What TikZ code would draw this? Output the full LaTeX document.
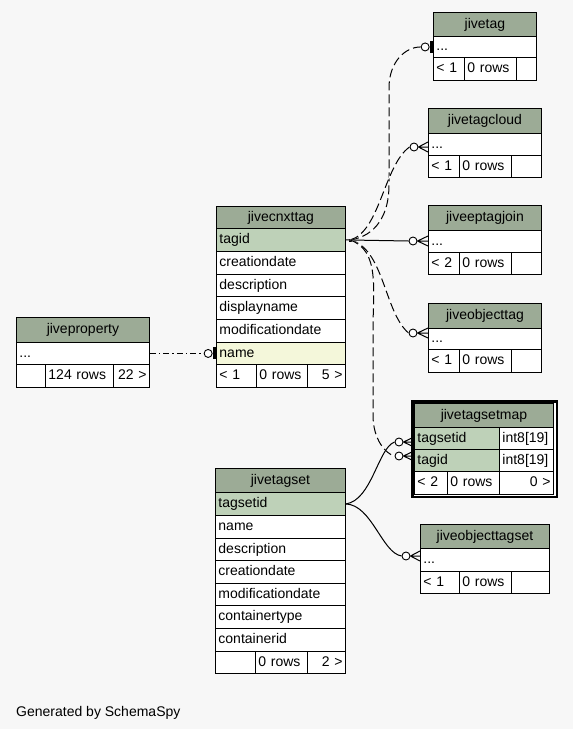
\documentclass[tikz,border=0pt]{standalone}
\usepackage{fontspec}
\setmainfont{Liberation Sans}
\usetikzlibrary{calc}
\definecolor{hdr}{HTML}{9CAB96}
\definecolor{pk}{HTML}{BED1B8}
\definecolor{idx}{HTML}{F4F7DA}
\definecolor{bgc}{HTML}{F7F7F7}
\pgfdeclarelayer{bgl}
\pgfdeclarelayer{edges}
\pgfsetlayers{bgl,edges,main}
\newcommand\tcell[8]{%
  \pgfmathsetmacro\tcw{#4-6}%
  \node[cell,fill=#6,align=#7,text width=\tcw pt,minimum height=#5pt] (#1) at (#2,#3) {#8};}
\tikzset{
  cell/.style={draw=black, line width=0.9pt, anchor=north west, inner xsep=3pt, inner ysep=0pt,
    text height=11pt, text depth=3pt, font=\fontsize{14}{16}\selectfont},
  circ/.style={circle, draw=black, fill=white, line width=0.9pt, inner sep=0pt, minimum size=8pt},
  barmark/.style={rectangle, fill=black, inner sep=0pt, minimum width=3pt, minimum height=12pt},
  conn/.style={draw=black, line width=1pt},
  dashconn/.style={draw=black, line width=1pt, dash pattern=on 9pt off 4pt,
    preaction={draw=white, solid, line width=1pt}},
  dotconn/.style={draw=black, line width=1pt, dash pattern=on 6pt off 3pt on 1.5pt off 3pt},
}
\begin{document}
\begin{tikzpicture}[x=1pt,y=-1pt]
\begin{pgfonlayer}{bgl}
\fill[bgc] (0,0) rectangle (573,729);
\end{pgfonlayer}
\useasboundingbox (0,0) rectangle (573,729);

% jivetag
\tcell{tg-h}{433}{12}{103}{24}{hdr}{center}{jivetag}
\tcell{tg-r}{433}{36}{103}{21}{white}{left}{...}
\tcell{tg-f1}{433}{57}{31}{23}{white}{left}{< 1}
\tcell{tg-f2}{464}{57}{52}{23}{white}{left}{0 rows}
\tcell{tg-f3}{516}{57}{20}{23}{white}{left}{}

% jivetagcloud
\tcell{tc-h}{428}{108}{113}{25}{hdr}{center}{jivetagcloud}
\tcell{tc-r}{428}{133}{113}{22}{white}{left}{...}
\tcell{tc-f1}{428}{155}{31}{22}{white}{left}{< 1}
\tcell{tc-f2}{459}{155}{52}{22}{white}{left}{0 rows}
\tcell{tc-f3}{511}{155}{30}{22}{white}{left}{}

% jiveeptagjoin
\tcell{ej-h}{428}{205}{113}{25}{hdr}{center}{jiveeptagjoin}
\tcell{ej-r}{428}{230}{113}{22}{white}{left}{...}
\tcell{ej-f1}{428}{252}{31}{22}{white}{left}{< 2}
\tcell{ej-f2}{459}{252}{52}{22}{white}{left}{0 rows}
\tcell{ej-f3}{511}{252}{30}{22}{white}{left}{}

% jiveobjecttag
\tcell{ot-h}{428}{303}{113}{25}{hdr}{center}{jiveobjecttag}
\tcell{ot-r}{428}{328}{113}{21}{white}{left}{...}
\tcell{ot-f1}{428}{349}{31}{23}{white}{left}{< 1}
\tcell{ot-f2}{459}{349}{52}{23}{white}{left}{0 rows}
\tcell{ot-f3}{511}{349}{30}{23}{white}{left}{}

% jivetagsetmap
\node[draw=black, fill=white, line width=2.3pt, anchor=north west, inner sep=0pt,
  minimum width=144.7pt, minimum height=95.7pt] (tm-frame) at (411.3,400.3) {};
\tcell{tm-h}{414}{403}{139}{24}{hdr}{center}{jivetagsetmap}
\tcell{tm-r1a}{414}{427}{85}{22}{pk}{left}{tagsetid}
\tcell{tm-r1b}{499}{427}{54}{22}{white}{left}{int8[19]}
\tcell{tm-r2a}{414}{449}{85}{22}{pk}{left}{tagid}
\tcell{tm-r2b}{499}{449}{54}{22}{white}{left}{int8[19]}
\tcell{tm-f1}{414}{471}{33}{23}{white}{left}{< 2}
\tcell{tm-f2}{447}{471}{52}{23}{white}{left}{0 rows}
\tcell{tm-f3}{499}{471}{54}{23}{white}{right}{0 >}

% jiveobjecttagset
\tcell{os-h}{420}{524}{129}{24}{hdr}{center}{jiveobjecttagset}
\tcell{os-r}{420}{548}{129}{23}{white}{left}{...}
\tcell{os-f1}{420}{571}{39}{22}{white}{left}{< 1}
\tcell{os-f2}{459}{571}{52}{22}{white}{left}{0 rows}
\tcell{os-f3}{511}{571}{38}{22}{white}{left}{}

% jivecnxttag
\tcell{cx-h}{216}{206}{129}{22}{hdr}{center}{jivecnxttag}
\tcell{cx-tagid}{216}{228}{129}{23}{pk}{left}{tagid}
\tcell{cx-cd}{216}{251}{129}{23}{white}{left}{creationdate}
\tcell{cx-desc}{216}{274}{129}{22}{white}{left}{description}
\tcell{cx-dn}{216}{296}{129}{23}{white}{left}{displayname}
\tcell{cx-md}{216}{319}{129}{23}{white}{left}{modificationdate}
\tcell{cx-name}{216}{342}{129}{22}{idx}{left}{name}
\tcell{cx-f1}{216}{364}{40}{23}{white}{left}{< 1}
\tcell{cx-f2}{256}{364}{51}{23}{white}{left}{0 rows}
\tcell{cx-f3}{307}{364}{38}{23}{white}{right}{5 >}

% jiveproperty
\tcell{jp-h}{16}{317}{133}{25}{hdr}{center}{jiveproperty}
\tcell{jp-r}{16}{342}{133}{22}{white}{left}{...}
\tcell{jp-f1}{16}{364}{29}{23}{white}{left}{}
\tcell{jp-f2}{45}{364}{68}{23}{white}{left}{124 rows}
\tcell{jp-f3}{113}{364}{36}{23}{white}{right}{22 >}

% jivetagset
\tcell{ts-h}{215}{468}{130}{24}{hdr}{center}{jivetagset}
\tcell{ts-tsid}{215}{492}{130}{23}{pk}{left}{tagsetid}
\tcell{ts-name}{215}{515}{130}{23}{white}{left}{name}
\tcell{ts-desc}{215}{538}{130}{22}{white}{left}{description}
\tcell{ts-cd}{215}{560}{130}{23}{white}{left}{creationdate}
\tcell{ts-md}{215}{583}{130}{22}{white}{left}{modificationdate}
\tcell{ts-ct}{215}{605}{130}{23}{white}{left}{containertype}
\tcell{ts-ci}{215}{628}{130}{23}{white}{left}{containerid}
\tcell{ts-f1}{215}{651}{40}{22}{white}{left}{}
\tcell{ts-f2}{255}{651}{52}{22}{white}{left}{0 rows}
\tcell{ts-f3}{307}{651}{38}{22}{white}{right}{2 >}

% footer text
\node[anchor=base west, inner sep=0pt, font=\fontsize{14}{16}\selectfont] (gen) at (16,716) {Generated by SchemaSpy};

% end markers
\node[barmark, anchor=east] (bar-tg) at (tg-r.west) {};
\node[circ, anchor=east] (c-tg) at (bar-tg.west) {};
\node[barmark, anchor=east] (bar-cx) at (cx-name.west) {};
\node[circ, anchor=east] (c-jp) at (bar-cx.west) {};
\node[circ] (c-tc) at (414,147) {};
\node[circ] (c-ej) at (413,241) {};
\node[circ] (c-ot) at (413,333) {};
\node[circ] (c-tm1) at (399,442) {};
\node[circ] (c-tm2) at (399,456) {};
\node[circ] (c-os) at (406,556) {};
\coordinate (s1) at (350,240);

% crow's feet
\foreach \c/\r in {c-tc/tc-r, c-ej/ej-r, c-ot/ot-r, c-tm1/tm-r1a, c-tm2/tm-r2a, c-os/os-r}{
  \draw[conn] (\c.east) -- ($(\r.west |- \c.east)+(0,-5)$)
              (\c.east) -- (\r.west |- \c.east)
              (\c.east) -- ($(\r.west |- \c.east)+(0,5)$);
}

\begin{pgfonlayer}{edges}
\draw[dotconn] (jp-r.east) -- (c-jp.west);
\draw[conn] (cx-tagid.east) -- (s1);
\fill[black] ($(s1)+(-1.5,-1.5)$) rectangle ($(s1)+(1.5,1.5)$);
\draw[dashconn] (s1) .. controls (376,236) and (389,215) .. (389,185) -- (389,88)
  .. controls (389,62) and (405,47) .. (c-tg.west);
\draw[dashconn] (s1) .. controls (380,232) and (384,165) .. (c-tc.west);
\draw[conn] (s1) -- (c-ej.west);
\draw[dashconn] (s1) .. controls (384,248) and (384,312) .. (c-ot.west);
\draw[dashconn] (s1) .. controls (380,250) and (373,290) .. (373,330) -- (373,415)
  .. controls (373,440) and (386,454) .. (c-tm2.west);
\draw[conn] (ts-tsid.east) .. controls (372,500) and (378,448) .. (c-tm1.west);
\draw[conn] (ts-tsid.east) .. controls (372,505) and (382,553) .. (c-os.west);
\end{pgfonlayer}
\end{tikzpicture}
\end{document}
